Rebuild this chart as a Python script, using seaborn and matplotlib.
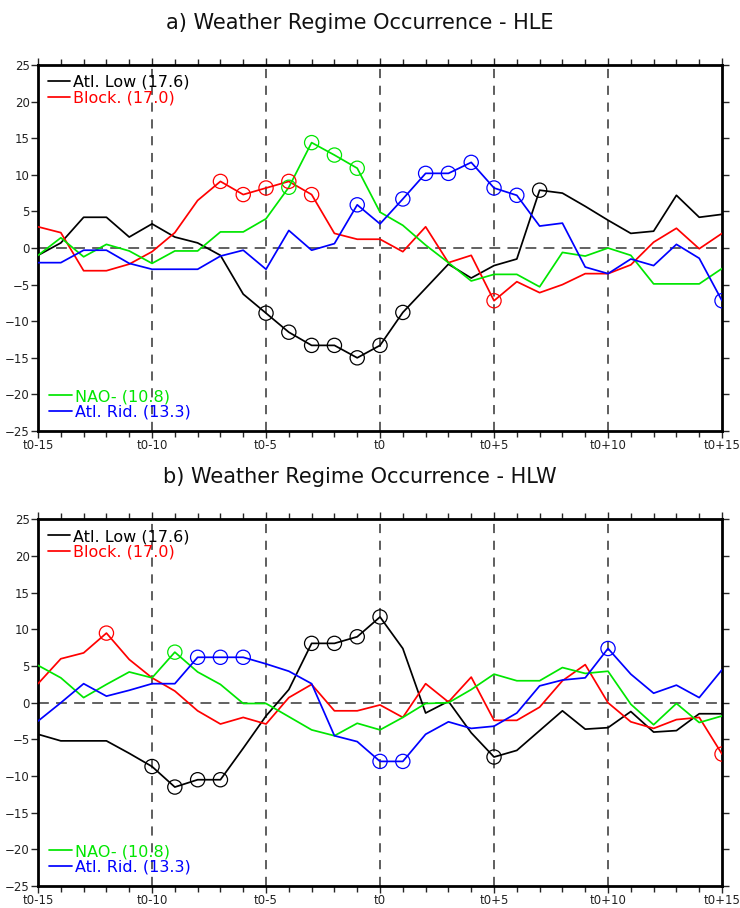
import numpy as np
import pandas as pd
import matplotlib
matplotlib.use("Agg")
import matplotlib.pyplot as plt
import seaborn as sns

days = list(range(-15, 16))
tick_days = [-15, -10, -5, 0, 5, 10, 15]
tick_labels = ["t0-15", "t0-10", "t0-5", "t0", "t0+5", "t0+10", "t0+15"]
regimes = ["Atl. Low", "Block.", "NAO-", "Atl. Rid."]
freqs = ["17.6", "17.0", "10.8", "13.3"]
colors = ["#000000", "#ff0000", "#00e600", "#0000ff"]

# panel a) HLE
hle_atl_low = [-1.0, 0.7, 4.2, 4.2, 1.5, 3.3, 1.5, 0.7, -1.0, -6.3, -8.9, -11.5, -13.3, -13.3, -15.0, -13.3,
               -8.8, -5.5, -2.2, -4.1, -2.4, -1.5, 7.9, 7.5, 5.7, 3.8, 2.0, 2.3, 7.2, 4.2, 4.6]
hle_block = [2.9, 2.1, -3.1, -3.1, -2.2, -0.5, 2.1, 6.5, 9.1, 7.3, 8.2, 9.1, 7.3, 2.0, 1.2, 1.2,
             -0.5, 2.9, -2.0, -1.0, -7.2, -4.6, -6.1, -5.0, -3.5, -3.5, -2.3, 0.8, 2.7, -0.1, 2.0]
hle_nao = [-1.0, 1.4, -1.2, 0.5, -0.4, -2.1, -0.4, -0.4, 2.2, 2.2, 4.0, 8.3, 14.4, 12.7, 10.9, 4.9,
           3.1, 0.4, -2.0, -4.5, -3.6, -3.6, -5.3, -0.6, -1.1, 0.0, -1.0, -4.9, -4.9, -4.9, -2.8]
hle_atl_rid = [-2.0, -2.0, -0.3, -0.3, -2.1, -2.9, -2.9, -2.9, -1.1, -0.3, -2.9, 2.4, -0.3, 0.6, 5.9, 3.3,
               6.7, 10.2, 10.2, 11.7, 8.2, 7.2, 3.0, 3.4, -2.6, -3.5, -1.5, -2.4, 0.5, -1.4, -7.2]
hle_sig = [[-5, -4, -3, -2, -1, 0, 1, 7],
           [-7, -6, -5, -4, -3, 5],
           [-4, -3, -2, -1],
           [-1, 1, 2, 3, 4, 5, 6, 15]]

# panel b) HLW
hlw_atl_low = [-4.3, -5.2, -5.2, -5.2, -6.9, -8.7, -11.5, -10.5, -10.5, -6.2, -1.8, 1.8, 8.1, 8.1, 9.0, 11.7,
               7.4, -1.4, 0.2, -4.1, -7.4, -6.5, -3.8, -1.1, -3.6, -3.4, -1.2, -4.0, -3.8, -1.5, -1.5]
hlw_block = [2.6, 6.0, 6.8, 9.5, 5.9, 3.4, 1.6, -1.1, -2.9, -2.0, -2.9, 0.7, 2.5, -1.1, -1.1, -0.3,
             -2.0, 2.6, 0.1, 3.5, -2.4, -2.4, -0.6, 3.0, 5.2, 0.0, -2.6, -3.5, -2.3, -2.0, -7.0]
hlw_nao = [5.1, 3.4, 0.7, 2.5, 4.2, 3.4, 6.9, 4.2, 2.5, -0.1, -0.1, -1.9, -3.7, -4.5, -2.8, -3.7,
           -2.0, -0.1, 0.0, 1.8, 3.9, 3.0, 3.0, 4.8, 4.0, 4.3, -0.2, -3.0, -0.1, -2.7, -1.8]
hlw_atl_rid = [-2.5, 0.0, 2.6, 0.9, 1.7, 2.6, 2.6, 6.2, 6.2, 6.2, 5.3, 4.3, 2.6, -4.5, -5.3, -8.0,
               -8.0, -4.3, -2.6, -3.5, -3.2, -1.4, 2.3, 3.1, 3.4, 7.4, 3.9, 1.3, 2.4, 0.7, 4.5]
hlw_sig = [[-10, -9, -8, -7, -3, -2, -1, 0, 5],
           [-12, 15],
           [-9],
           [-8, -7, -6, 0, 1, 10]]

panels = [
    ("a) Weather Regime Occurrence - HLE", [hle_atl_low, hle_block, hle_nao, hle_atl_rid], hle_sig),
    ("b) Weather Regime Occurrence - HLW", [hlw_atl_low, hlw_block, hlw_nao, hlw_atl_rid], hlw_sig),
]

sns.set_style("ticks")
plt.rcParams["font.family"] = ["DejaVu Sans"]

fig = plt.figure(figsize=(7.4, 9.08), dpi=100)
axes = [fig.add_axes([0.0514, 0.5253, 0.9243, 0.4031]),
        fig.add_axes([0.0514, 0.0242, 0.9243, 0.4037])]

for ax, (title, series, sig) in zip(axes, panels):
    rows = []
    for name, vals in zip(regimes, series):
        for d, v in zip(days, vals):
            rows.append({"day": d, "value": v, "regime": name})
    df = pd.DataFrame(rows)

    for d in [-10, -5, 0, 5, 10]:
        ax.axvline(d, color="#333333", lw=1.1, ls=(0, (6, 5)), zorder=1)
    ax.axhline(0, color="#555555", lw=1.3, ls=(0, (6, 4)), zorder=1)

    sns.lineplot(data=df, x="day", y="value", hue="regime", hue_order=regimes,
                 palette=colors, lw=1.25, ax=ax, legend=False, zorder=3)

    for name, vals, c, sd in zip(regimes, series, colors, sig):
        pts = df[(df["regime"] == name) & (df["day"].isin(sd))]
        ax.scatter(pts["day"], pts["value"], s=105, facecolors="none",
                   edgecolors=c, linewidths=0.9, zorder=4)

    ax.set_xlim(-15, 15)
    ax.set_ylim(-25, 25)
    ax.set_xlabel("")
    ax.set_ylabel("")
    ax.set_xticks(days, minor=True)
    ax.set_xticks(tick_days)
    ax.set_xticklabels(tick_labels)
    ax.set_yticks(range(-25, 26, 5))
    ax.tick_params(axis="both", which="major", direction="out", length=5, width=1.0,
                   labelsize=8.5, labelcolor="#222222", pad=1)
    ax.tick_params(axis="x", which="minor", direction="out", length=4, width=1.0)
    ax.tick_params(top=True, right=True, which="both")
    ax.tick_params(axis="y", which="minor", left=False, right=False)
    for sp in ax.spines.values():
        sp.set_linewidth(2.0)
        sp.set_color("black")
        sp.set_visible(True)

    ax.set_title(title, fontsize=15, pad=26, color="#111111", x=0.47)

    handles = [plt.Line2D([], [], color=c, lw=1.25) for c in colors]
    labels = [f"{r} ({f})" for r, f in zip(regimes, freqs)]
    leg1 = ax.legend(handles[:2], labels[:2], loc="upper left", frameon=False,
                     fontsize=11.5, handlelength=1.4, handletextpad=0.2,
                     labelspacing=0.05, borderaxespad=0.2, labelcolor=colors[:2])
    ax.add_artist(leg1)
    ax.legend(handles[2:], labels[2:], loc="lower left", frameon=False,
              fontsize=11.5, handlelength=1.4, handletextpad=0.2,
              labelspacing=0.05, borderaxespad=0.3, labelcolor=colors[2:])

fig.savefig("out.png", dpi=100)
